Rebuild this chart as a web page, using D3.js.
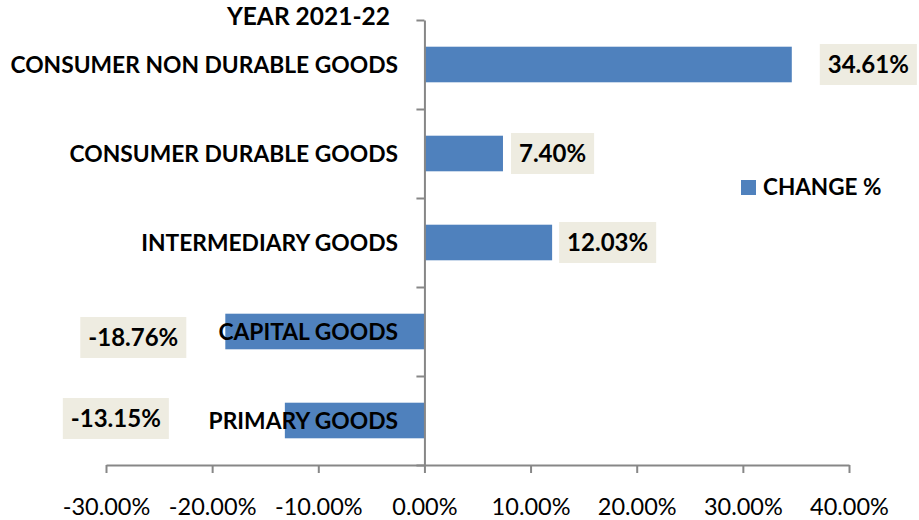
<!DOCTYPE html>
<html><head><meta charset="utf-8">
<script src="https://cdn.jsdelivr.net/npm/d3@7"></script>
<style>
html,body{margin:0;padding:0;background:#fff;}
svg{display:block;font-family:Lato,"Open Sans",sans-serif;}
</style></head>
<body><svg id="chart" width="919" height="520"></svg>
<script>
const categories = ["CONSUMER NON DURABLE GOODS","CONSUMER DURABLE GOODS","INTERMEDIARY GOODS","CAPITAL GOODS","PRIMARY GOODS"];
const changeValues = [0.3461, 0.0740, 0.1203, -0.1876, -0.1315];
const valueLabels = ["34.61%","7.40%","12.03%","-18.76%","-13.15%"];
const tickValues = [-0.3,-0.2,-0.1,0,0.1,0.2,0.3,0.4];
const tickLabels = ["-30.00%","-20.00%","-10.00%","0.00%","10.00%","20.00%","30.00%","40.00%"];
const seriesName = "CHANGE %";
const title = "YEAR 2021-22";
// manual label placement (layout, px)
const labelDx = [28, 8, 7, -39, -116];
const labelDy = [0, 0, 0, 6, -2];

const svg = d3.select("#chart");
const barColor = "#4F81BD", axisColor = "#878787", boxColor = "#EEECE1";

const x = d3.scaleLinear().domain([-0.3, 0.4]).range([106, 849]);
const y = d3.scaleBand().domain(categories).range([20, 465]).paddingInner(0.6).paddingOuter(0.3);
const yEdge = d3.scaleLinear().domain([0, categories.length]).range([20, 465]);

// bars
svg.append("g").selectAll("rect").data(categories).join("rect")
  .attr("x", (c,i) => x(Math.min(0, changeValues[i])))
  .attr("width", (c,i) => Math.abs(x(changeValues[i]) - x(0)))
  .attr("y", c => y(c))
  .attr("height", y.bandwidth())
  .attr("fill", barColor);

// x axis
const xAxis = svg.append("g").attr("transform", `translate(0,${465})`)
  .call(d3.axisBottom(x).tickValues(tickValues).tickSize(8).tickSizeOuter(0)
    .tickFormat((d,i) => tickLabels[i]));
xAxis.select(".domain").attr("stroke", axisColor).attr("stroke-width", 2);
xAxis.selectAll(".tick line").attr("stroke", axisColor).attr("stroke-width", 2);
xAxis.selectAll(".tick text").attr("y", 50).attr("dy", null)
  .attr("font-family", "Lato, sans-serif").attr("font-size", 23.5).attr("fill", "#000");

// y axis (ticks at category boundaries)
const yAxis = svg.append("g").attr("transform", `translate(${x(0)},0)`)
  .call(d3.axisLeft(yEdge).tickValues(d3.range(categories.length + 1)).tickSize(8).tickSizeOuter(0).tickFormat(""));
yAxis.select(".domain").attr("stroke", axisColor).attr("stroke-width", 2);
yAxis.selectAll(".tick line").attr("stroke", axisColor).attr("stroke-width", 2);

// category labels
svg.append("g").selectAll("text").data(categories).join("text")
  .attr("x", 398)
  .attr("y", c => y(c) + y.bandwidth()/2)
  .attr("dy", "0.36em")
  .attr("text-anchor", "end")
  .attr("font-weight", "bold").attr("font-size", 22.8).attr("fill", "#000")
  .text(c => c);

// title
svg.append("text").attr("x", 390).attr("y", 25).attr("text-anchor", "end")
  .attr("font-weight", "bold").attr("font-size", 24.5).attr("fill", "#000").text(title);

// value labels
const lg = svg.append("g");
categories.forEach((c, i) => {
  const v = changeValues[i];
  const g = lg.append("g");
  const t = g.append("text").attr("font-weight", "bold").attr("font-size", 24)
    .attr("fill", "#000").attr("text-anchor", "middle").attr("dy", "0.36em").text(valueLabels[i]);
  const w = t.node().getComputedTextLength() + 16;
  const h = 41;
  const cy = y(c) + y.bandwidth()/2 + labelDy[i];
  const cx = v >= 0 ? x(v) + labelDx[i] + w/2 : x(v) + labelDx[i] - w/2;
  g.insert("rect", "text").attr("x", cx - w/2).attr("y", cy - h/2).attr("width", w).attr("height", h).attr("fill", boxColor);
  t.attr("x", cx).attr("y", cy);
});

// legend
const leg = svg.append("g").attr("transform", "translate(741,180)");
leg.append("rect").attr("width", 15).attr("height", 15).attr("fill", barColor);
leg.append("text").attr("x", 22).attr("y", 15).attr("font-weight", "bold").attr("font-size", 22.5).attr("fill", "#000").text(seriesName);
</script></body></html>
